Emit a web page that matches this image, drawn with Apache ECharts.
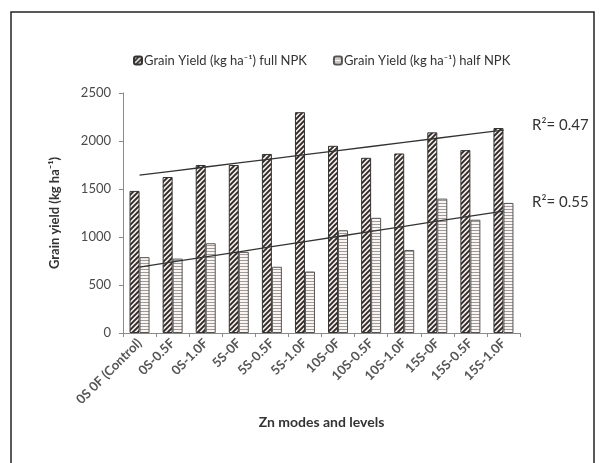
<!DOCTYPE html>
<html>
<head>
<meta charset="utf-8">
<script src="https://cdn.jsdelivr.net/npm/echarts@6/dist/echarts.min.js"></script>
<style>
  html, body { margin: 0; padding: 0; background: #ffffff; }
  #chart { width: 601px; height: 463px; }
</style>
</head>
<body>
<div id="chart"></div>
<script>
// Treatments (Zn application mode and level)
const categories = ['0S 0F (Control)', '0S-0.5F', '0S-1.0F', '5S-0F', '5S-0.5F', '5S-1.0F',
                    '10S-0F', '10S-0.5F', '10S-1.0F', '15S-0F', '15S-0.5F', '15S-1.0F'];
// Grain yield, kg ha-1
const fullNPK = [1480, 1625, 1750, 1750, 1865, 2300, 1950, 1825, 1870, 2090, 1905, 2135];
const halfNPK = [790, 775, 935, 845, 690, 640, 1070, 1200, 865, 1400, 1180, 1355];
const yTicks = [0, 500, 1000, 1500, 2000, 2500];
const r2Labels = ['R\u00B2= 0.47', 'R\u00B2= 0.55'];

const nameFull = 'Grain Yield (kg ha\u207B\u00B9) full NPK';
const nameHalf = 'Grain Yield (kg ha\u207B\u00B9) half NPK';

// Least-squares linear trend over category index 1..n
function linearTrend(vals) {
  const n = vals.length;
  let sx = 0, sy = 0, sxx = 0, sxy = 0;
  vals.forEach((v, i) => { const x = i + 1; sx += x; sy += v; sxx += x * x; sxy += x * v; });
  const b = (n * sxy - sx * sy) / (n * sxx - sx * sx);
  const a = (sy - b * sx) / n;
  return vals.map((_, i) => +(a + b * (i + 1)).toFixed(1));
}

// Fill patterns for the bars
function hatchPattern() {
  const c = document.createElement('canvas');
  const s = 5;
  c.width = s; c.height = s;
  const g = c.getContext('2d');
  g.fillStyle = '#f7e9e3';
  g.fillRect(0, 0, s, s);
  g.strokeStyle = '#2a2a2a';
  g.lineWidth = 1.9;
  g.beginPath();
  g.moveTo(-1, s + 1); g.lineTo(s + 1, -1);
  g.moveTo(-1, 1); g.lineTo(1, -1);
  g.moveTo(s - 1, s + 1); g.lineTo(s + 1, s - 1);
  g.stroke();
  return c;
}
function stripePattern() {
  const c = document.createElement('canvas');
  c.width = 4; c.height = 3;
  const g = c.getContext('2d');
  g.fillStyle = '#fbf4f1';
  g.fillRect(0, 0, 4, 3);
  g.fillStyle = '#9c9c9c';
  g.fillRect(0, 2, 4, 1);
  return c;
}
const hatch = { image: hatchPattern(), repeat: 'repeat' };
const stripes = { image: stripePattern(), repeat: 'repeat' };

const FONT = 'Lato, "Open Sans", sans-serif';
const chart = echarts.init(document.getElementById('chart'), null, { renderer: 'canvas' });

chart.setOption({
  backgroundColor: '#ffffff',
  animation: false,
  textStyle: { fontFamily: FONT },
  grid: { left: 123, right: 81, top: 93, bottom: 130 },
  legend: {
    data: [nameFull, nameHalf],
    top: 49, left: 128,
    itemWidth: 8, itemHeight: 8, itemGap: 26,
    textStyle: { fontFamily: FONT, fontSize: 13, color: '#333', padding: [0, 0, 0, -3] }
  },
  xAxis: {
    type: 'category',
    data: categories,
    name: 'Zn modes and levels',
    nameLocation: 'middle',
    nameGap: 82,
    nameTextStyle: { fontFamily: FONT, fontSize: 14, fontWeight: 'bold', color: '#333' },
    axisLine: { lineStyle: { color: '#8a8a8a', width: 1 } },
    axisTick: { show: true, length: 4, lineStyle: { color: '#8a8a8a' } },
    axisLabel: { rotate: 45, fontSize: 13, fontWeight: 'bold', color: '#555', margin: 8, interval: 0 }
  },
  yAxis: {
    type: 'value',
    min: 0, max: 2500, interval: 500,
    name: 'Grain yield (kg ha\u207B\u00B9)',
    nameLocation: 'middle',
    nameGap: 62,
    nameRotate: 90,
    nameTextStyle: { fontFamily: FONT, fontSize: 13, fontWeight: 'bold', color: '#333' },
    axisLine: { show: true, lineStyle: { color: '#8a8a8a', width: 1 } },
    axisTick: { show: true, length: 4, lineStyle: { color: '#8a8a8a' } },
    splitLine: { show: false },
    axisLabel: {
      fontSize: 13, color: '#4a4a4a', margin: 12,
      formatter: v => (yTicks.indexOf(v) >= 0 ? String(v) : '')
    }
  },
  series: [
    {
      name: nameFull, type: 'bar', data: fullNPK,
      barWidth: 10, barGap: '0%',
      itemStyle: { color: hatch, borderColor: '#333', borderWidth: 1 }
    },
    {
      name: nameHalf, type: 'bar', data: halfNPK,
      barWidth: 10,
      itemStyle: { color: stripes, borderColor: '#555', borderWidth: 1 }
    },
    {
      name: 'trendFull', type: 'line', data: linearTrend(fullNPK),
      symbol: 'none', silent: true, z: 5,
      lineStyle: { color: '#333', width: 1.3 }
    },
    {
      name: 'trendHalf', type: 'line', data: linearTrend(halfNPK),
      symbol: 'none', silent: true, z: 5,
      lineStyle: { color: '#333', width: 1.3 }
    }
  ],
  graphic: [
    {
      type: 'rect', silent: true,
      shape: { x: 11, y: 12, width: 583, height: 470 },
      style: { fill: 'none', stroke: '#222', lineWidth: 1.5 }
    },
    {
      type: 'text', left: 532, top: 118, silent: true,
      style: { text: r2Labels[0], font: '15px ' + FONT, fill: '#333' }
    },
    {
      type: 'text', left: 532, top: 195, silent: true,
      style: { text: r2Labels[1], font: '15px ' + FONT, fill: '#333' }
    }
  ]
});
</script>
</body>
</html>
